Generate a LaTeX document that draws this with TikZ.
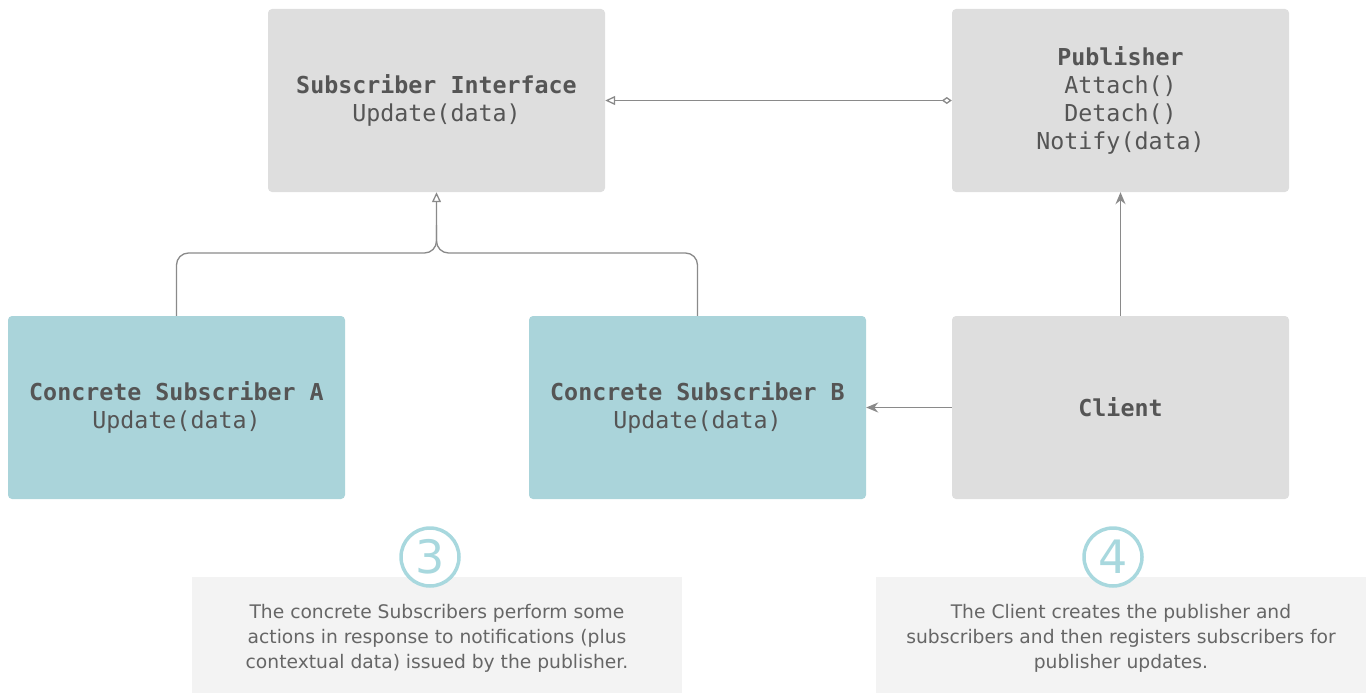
\documentclass[tikz,border=0pt]{standalone}
\usepackage{fontspec}
\setmainfont{DejaVu Sans}
\newfontfamily\monof{DejaVu Sans Mono}
\usetikzlibrary{arrows.meta}
\definecolor{boxgray}{HTML}{DEDEDE}
\definecolor{boxteal}{HTML}{AAD4DA}
\definecolor{notegray}{HTML}{F3F3F3}
\definecolor{txt}{HTML}{555555}
\definecolor{ntxt}{HTML}{666666}
\definecolor{lineg}{HTML}{8A8A8A}
\definecolor{circ}{HTML}{A8D8DE}
\tikzset{
  cls/.style={rectangle, rounded corners=4pt, minimum width=337pt, minimum height=183pt, inner sep=0pt, text=txt, align=center, font=\monof\fontsize{23.3}{28}\selectfont},
  grayb/.style={cls, fill=boxgray},
  tealb/.style={cls, fill=boxteal},
  note/.style={rectangle, fill=notegray, minimum width=490pt, minimum height=116pt, inner sep=0pt},
  notetext/.style={text=ntxt, align=center, font=\fontsize{18.7}{25}\selectfont, inner sep=0pt},
  numc/.style={circle, draw=circ, line width=3.5pt, minimum size=58pt, inner sep=0pt, text=circ, font=\fontsize{46}{46}\selectfont},
  conn/.style={draw=lineg, line width=1.3pt},
}
\begin{document}
\begin{tikzpicture}[x=1pt,y=-1pt]
\useasboundingbox (0,0) rectangle (1370,693);
% class boxes
\node[grayb] (si) at (436.5,100.5) {\textbf{Subscriber Interface}\\Update(data)};
\node[grayb] (pub) at (1120.5,100.5) {\textbf{Publisher}\\Attach()\\Detach()\\Notify(data)};
\node[tealb] (ca) at (176.5,407.5) {\textbf{Concrete Subscriber A}\\Update(data)};
\node[tealb] (cb) at (697.5,407.5) {\textbf{Concrete Subscriber B}\\Update(data)};
\node[grayb] (cl) at (1120.5,407.5) {\textbf{Client}};
% notes
\node[note] (n3) at (437,635) {};
\node[note] (n4) at (1121,635) {};
\node[numc, fill=white] (c3) at (430,557) {3};
\node[numc, fill=white] (c4) at (1113,557) {4};
\node[notetext] (t3) at (437,638) {The concrete Subscribers perform some\\actions in response to notifications (plus\\contextual data) issued by the publisher.};
\node[notetext] (t4) at (1121,638) {The Client creates the publisher and\\subscribers and then registers subscribers for\\publisher updates.};
% connectors
\coordinate (j) at (436.5,253);
\coordinate (k) at (436.5,225);
\draw[conn, {Diamond[open,length=10pt,width=7pt]}-{Triangle[open,length=10pt,width=9pt]}] (pub.west) -- (si.east);
\draw[conn, rounded corners=12pt, -{Triangle[open,length=10pt,width=9pt]}] (ca.north) |- (j) -- (si.south);
\draw[conn, rounded corners=12pt] (cb.north) |- (j) -- (k);
\draw[conn, -{Stealth[length=12pt,width=10pt]}] (cl.north) -- (pub.south);
\draw[conn, -{Stealth[length=12pt,width=10pt]}] (cl.west) -- (cb.east);
\end{tikzpicture}
\end{document}
